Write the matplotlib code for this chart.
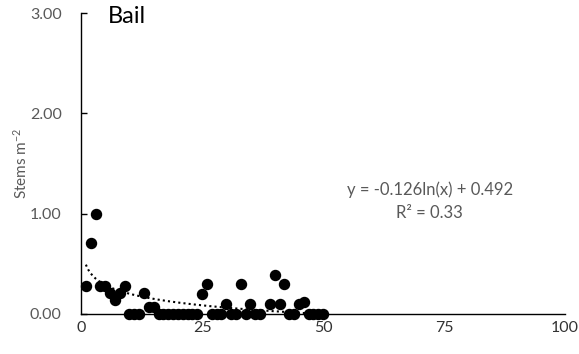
import numpy as np
import matplotlib
matplotlib.use("Agg")
import matplotlib.pyplot as plt

plt.rcParams['font.family'] = ['Lato', 'DejaVu Sans']
plt.rcParams['mathtext.fontset'] = 'custom'
plt.rcParams['mathtext.rm'] = 'Lato'
plt.rcParams['mathtext.it'] = 'Lato'

# Stem density per plot (plot number along the transect)
plot_no = [1, 2, 3, 4, 5, 6, 7, 8, 9, 10,
           11, 12, 13, 14, 15, 16, 17, 18, 19, 20,
           21, 22, 23, 24, 25, 26, 27, 28, 29, 30,
           31, 32, 33, 34, 35, 36, 37, 39, 40,
           41, 42, 43, 44, 45, 46, 47, 48, 49, 50]
stems = [0.28, 0.71, 1.00, 0.28, 0.28, 0.21, 0.14, 0.21, 0.28, 0.00,
         0.00, 0.00, 0.21, 0.07, 0.07, 0.00, 0.00, 0.00, 0.00, 0.00,
         0.00, 0.00, 0.00, 0.00, 0.20, 0.30, 0.00, 0.00, 0.00, 0.10,
         0.00, 0.00, 0.30, 0.00, 0.10, 0.00, 0.00, 0.10, 0.39,
         0.10, 0.30, 0.00, 0.00, 0.10, 0.12, 0.00, 0.00, 0.00, 0.00]

# log trendline coefficients
fit_a = -0.126
fit_b = 0.492
r_squared = 0.33

x_ticks = [0, 25, 50, 75, 100]
y_ticks = [0.0, 1.0, 2.0, 3.0]

fig = plt.figure(figsize=(5.79, 3.54), dpi=100)
ax = fig.add_axes([0.140, 0.113, 0.836, 0.850])

ax.scatter(plot_no, stems, s=52, color='black', zorder=3, clip_on=False)

xs = np.linspace(1, max(plot_no), 200)
ax.plot(xs, fit_a * np.log(xs) + fit_b, color='black', lw=1.5,
        linestyle=(0, (1, 1.5)), zorder=2)

ax.set_xlim(0, 100)
ax.set_ylim(0, 3)
ax.set_xticks(x_ticks)
ax.set_yticks(y_ticks)
ax.set_yticklabels([f"{v:.2f}" for v in y_ticks])

for side in ['top', 'right']:
    ax.spines[side].set_visible(False)
for side in ['left', 'bottom']:
    ax.spines[side].set_color('black')
    ax.spines[side].set_linewidth(1.0)

ax.tick_params(axis='x', length=0, pad=5, labelsize=11.5, labelcolor='#333333')
ax.tick_params(axis='y', direction='in', length=4, width=1.0, pad=14,
               labelsize=11.5, labelcolor='#595959')

ax.set_ylabel('Stems m$^{-2}$', fontsize=11, color='#595959', labelpad=0)

ax.text(5.6, 2.97, 'Bail', fontsize=17, color='black', va='center', ha='left')

ax.text(72, 1.24, f'y = {fit_a:.3f}ln(x) + {fit_b:.3f}', fontsize=12,
        color='#595959', ha='center', va='center')
ax.text(72, 1.01, f'R² = {r_squared:.2f}', fontsize=12,
        color='#595959', ha='center', va='center')

fig.savefig('out.png', dpi=100)
